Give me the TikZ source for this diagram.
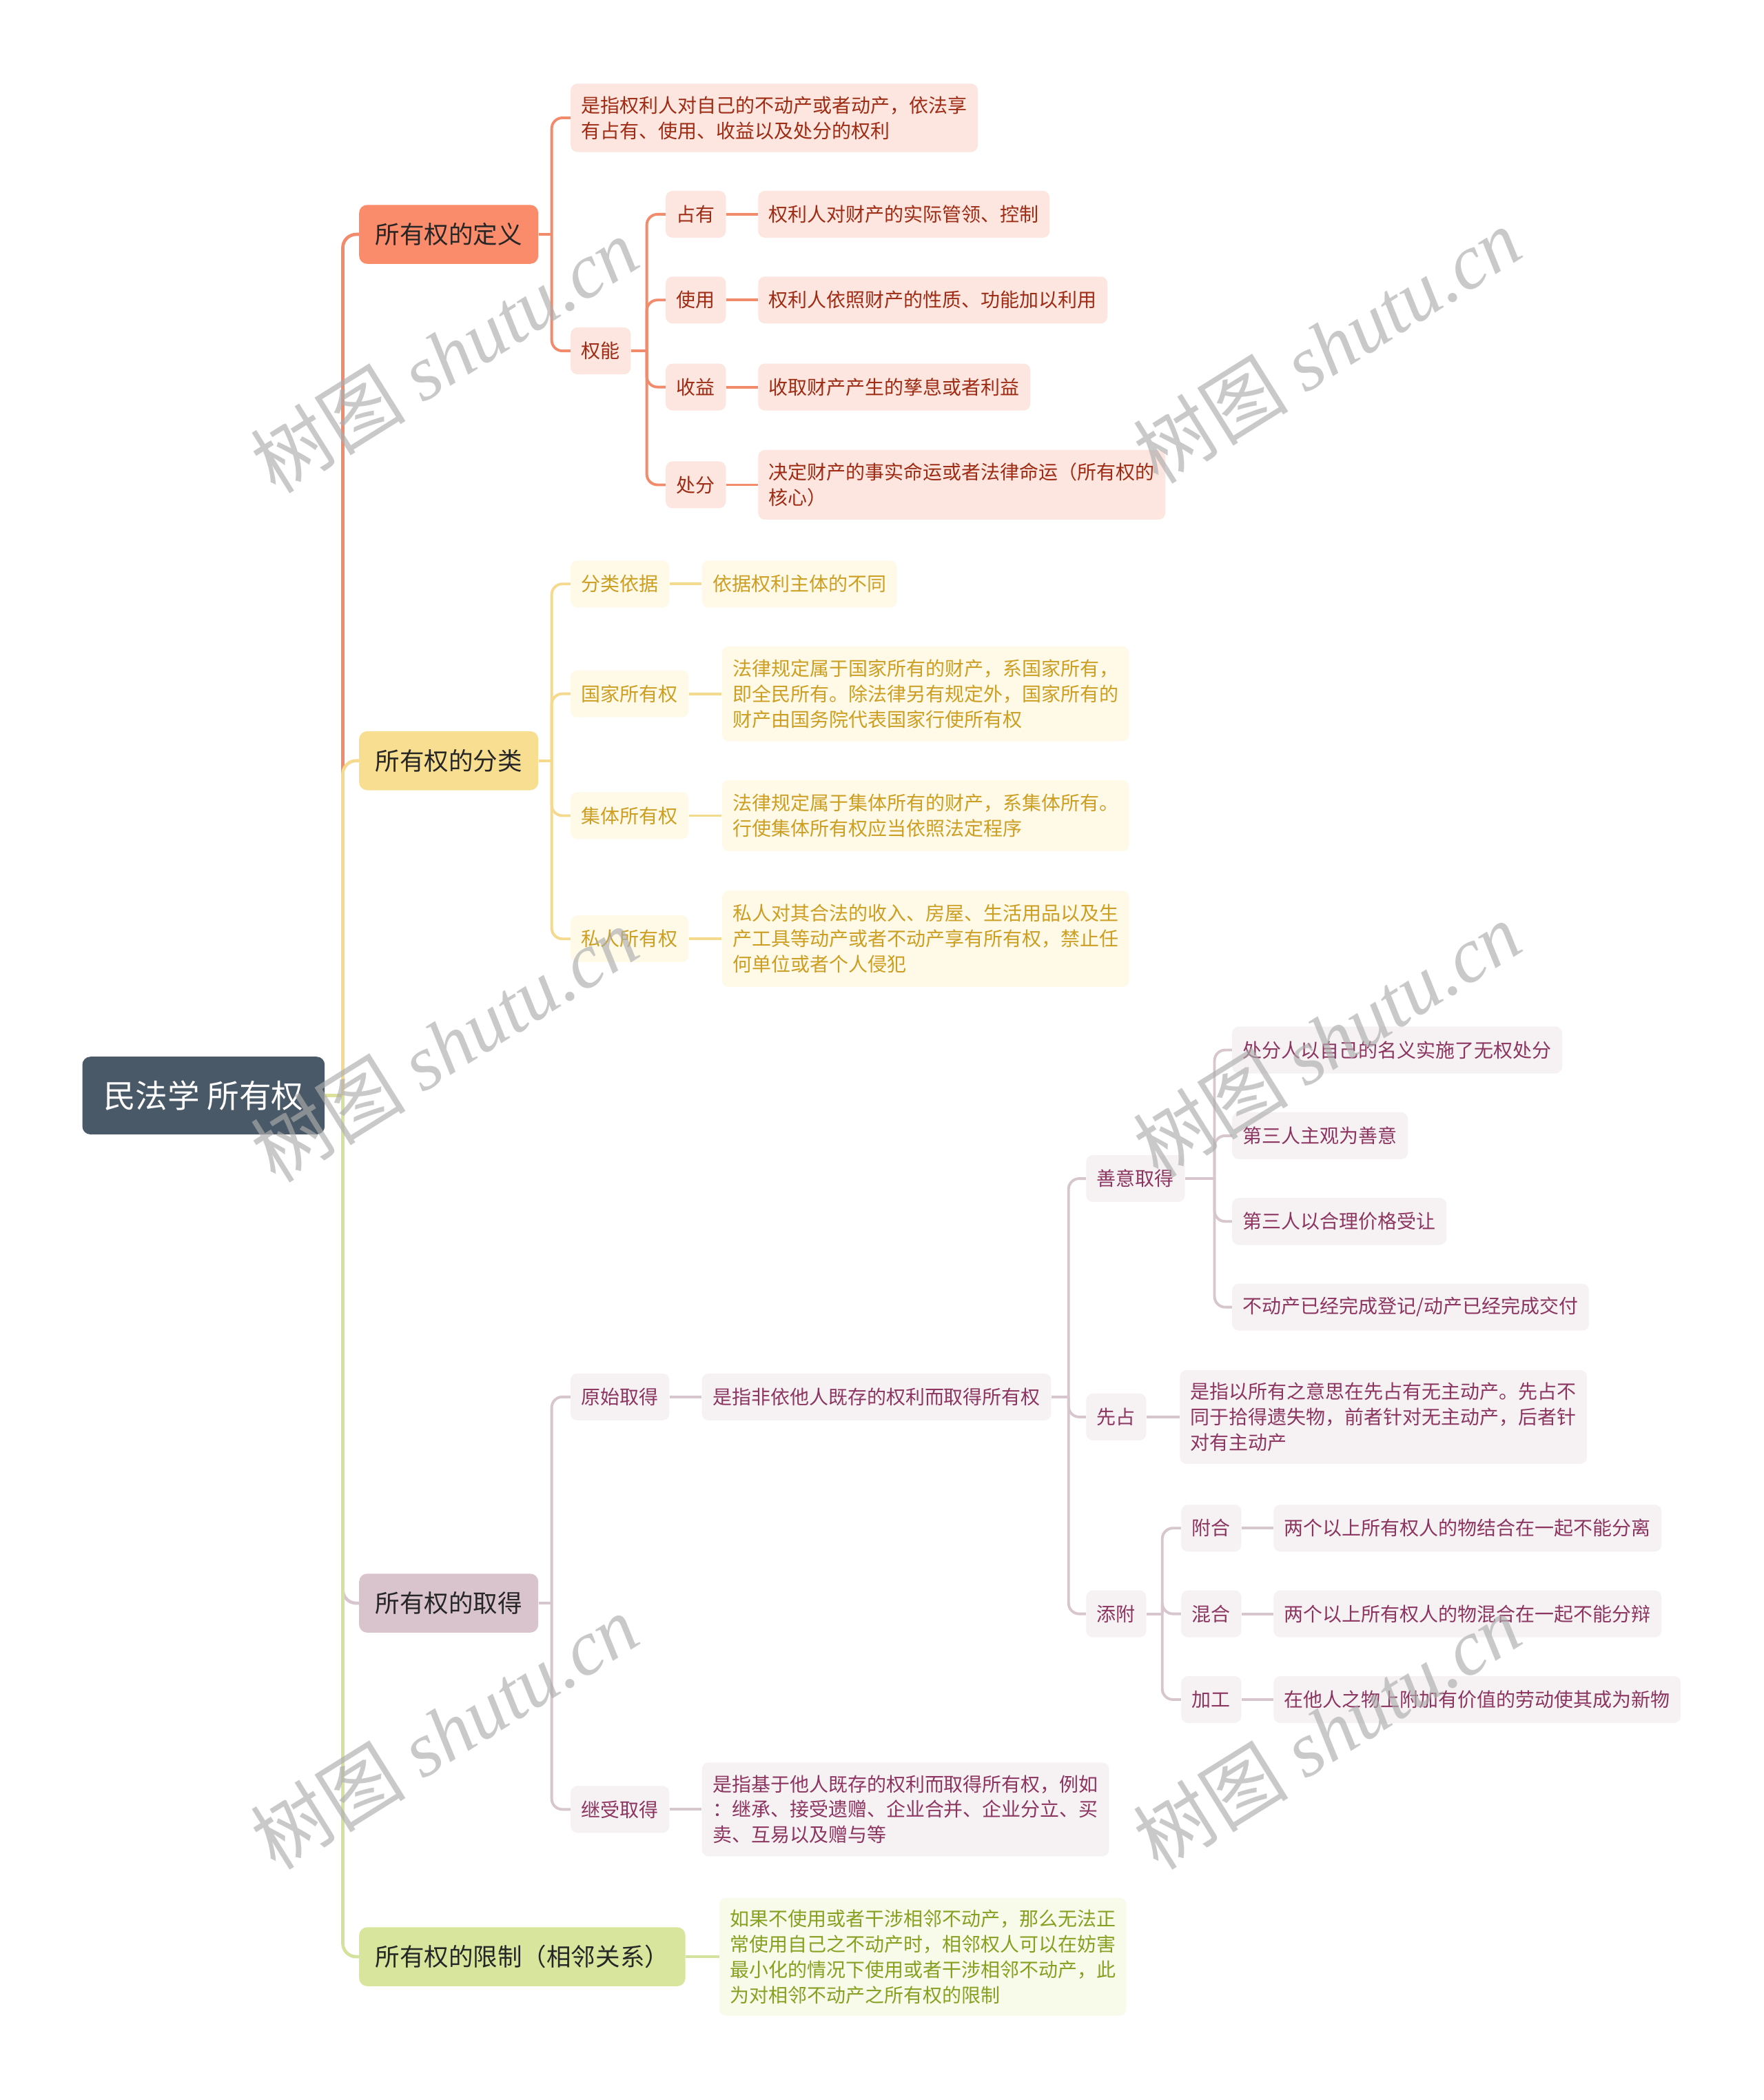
\documentclass[tikz,border=0pt]{standalone}
\usepackage{fontspec}
\newfontfamily\cjk{Noto Sans CJK SC}
\newfontfamily\wmlat{Liberation Serif}
\definecolor{rootc}{HTML}{4A5968}
\definecolor{ca}{HTML}{FA8B6B}\definecolor{cal}{HTML}{F28A6C}\definecolor{caf}{HTML}{FDE6DF}\definecolor{cat}{HTML}{9E2B14}
\definecolor{cb}{HTML}{F7DE90}\definecolor{cbl}{HTML}{F5DA8E}\definecolor{cbf}{HTML}{FFF9E8}\definecolor{cbt}{HTML}{CC9E22}
\definecolor{cc}{HTML}{D9C4CD}\definecolor{ccl}{HTML}{D7C6CD}\definecolor{ccf}{HTML}{F6F2F4}\definecolor{cct}{HTML}{8C3560}
\definecolor{cd}{HTML}{D8E69D}\definecolor{cdl}{HTML}{D3E29C}\definecolor{cdf}{HTML}{F8FAEA}\definecolor{cdt}{HTML}{86A021}
\tikzset{
  rootbox/.style={fill=rootc, text=white, rounded corners=6pt, minimum width=181pt, minimum height=58pt, font={\cjk\fontsize{24}{28}\selectfont}},
  lone/.style={rounded corners=6pt, inner xsep=12pt, minimum height=44pt, anchor=west, text=black!85, font={\cjk\fontsize{18.3}{22}\selectfont}},
  sbox/.style={rounded corners=5pt, inner xsep=8pt, inner ysep=0pt, minimum height=35pt, anchor=west, align=left, font={\cjk\fontsize{14.4}{19}\selectfont}},
  sa/.style={sbox, fill=caf, text=cat},
  sb/.style={sbox, fill=cbf, text=cbt},
  sc/.style={sbox, fill=ccf, text=cct},
  sd/.style={sbox, fill=cdf, text=cdt},
  mainline/.style={line width=2.4pt},
  subline/.style={line width=2pt},
  wm/.style={rotate=32, text=black!32, opacity=0.65, font={\cjk\fontsize{58}{62}\selectfont}}
}
\begin{document}
\begin{tikzpicture}[x=1pt,y=-1pt]
\useasboundingbox (0,0) rectangle (1317,1568);
\fill[white] (0,0) rectangle (1317,1568);

% root
\node[rootbox] (r) at (152,818) {民法学 所有权};
\coordinate (rj) at (256,818);

% level 1
\node[lone, fill=ca] (a) at (268,175) {所有权的定义};
\node[lone, fill=cb] (b) at (268,568) {所有权的分类};
\node[lone, fill=cc] (c) at (268,1197) {所有权的取得};
\node[lone, fill=cd] (d) at (268,1461) {所有权的限制（相邻关系）};

% definition branch
\node[sa, minimum height=51pt] (a0) at (426,88) {是指权利人对自己的不动产或者动产，依法享\\有占有、使用、收益以及处分的权利};
\node[sa] (a1) at (426,262) {权能};
\node[sa] (a11) at (497,160) {占有};
\node[sa] (a11t) at (566,160) {权利人对财产的实际管领、控制};
\node[sa] (a12) at (497,224) {使用};
\node[sa] (a12t) at (566,224) {权利人依照财产的性质、功能加以利用};
\node[sa] (a13) at (497,289) {收益};
\node[sa] (a13t) at (566,289) {收取财产产生的孳息或者利益};
\node[sa] (a14) at (497,362) {处分};
\node[sa, minimum height=52pt] (a14t) at (566,362) {决定财产的事实命运或者法律命运（所有权的\\核心）};

% classification branch
\node[sb] (b1) at (426,436) {分类依据};
\node[sb] (b1t) at (524,436) {依据权利主体的不同};
\node[sb] (b2) at (426,518) {国家所有权};
\node[sb, minimum height=71pt] (b2t) at (539,518) {法律规定属于国家所有的财产，系国家所有，\\即全民所有。除法律另有规定外，国家所有的\\财产由国务院代表国家行使所有权};
\node[sb] (b3) at (426,609) {集体所有权};
\node[sb, minimum height=53pt] (b3t) at (539,609) {法律规定属于集体所有的财产，系集体所有。\\行使集体所有权应当依照法定程序};
\node[sb] (b4) at (426,701) {私人所有权};
\node[sb, minimum height=72pt] (b4t) at (539,701) {私人对其合法的收入、房屋、生活用品以及生\\产工具等动产或者不动产享有所有权，禁止任\\何单位或者个人侵犯};

% acquisition branch
\node[sc] (c1) at (426,1043) {原始取得};
\node[sc] (c1t) at (524,1043) {是指非依他人既存的权利而取得所有权};
\node[sc] (c11) at (811,880) {善意取得};
\node[sc] (c111) at (920,784) {处分人以自己的名义实施了无权处分};
\node[sc] (c112) at (920,848) {第三人主观为善意};
\node[sc] (c113) at (920,912) {第三人以合理价格受让};
\node[sc] (c114) at (920,976) {不动产已经完成登记/动产已经完成交付};
\node[sc] (c12) at (811,1058) {先占};
\node[sc, minimum height=70pt] (c12t) at (881,1058) {是指以所有之意思在先占有无主动产。先占不\\同于拾得遗失物，前者针对无主动产，后者针\\对有主动产};
\node[sc] (c13) at (811,1205) {添附};
\node[sc] (c131) at (882,1141) {附合};
\node[sc] (c131t) at (951,1141) {两个以上所有权人的物结合在一起不能分离};
\node[sc] (c132) at (882,1205) {混合};
\node[sc] (c132t) at (951,1205) {两个以上所有权人的物混合在一起不能分辩};
\node[sc] (c133) at (882,1269) {加工};
\node[sc] (c133t) at (951,1269) {在他人之物上附加有价值的劳动使其成为新物};
\node[sc] (c2) at (426,1351) {继受取得};
\node[sc, minimum height=70pt] (c2t) at (524,1351) {是指基于他人既存的权利而取得所有权，例如\\：继承、接受遗赠、企业合并、企业分立、买\\卖、互易以及赠与等};

% limitation branch
\node[sd, minimum height=88pt] (d1) at (537,1461) {如果不使用或者干涉相邻不动产，那么无法正\\常使用自己之不动产时，相邻权人可以在妨害\\最小化的情况下使用或者干涉相邻不动产，此\\为对相邻不动产之所有权的限制};

% junctions
\coordinate (ja) at (412,175);
\coordinate (ja1) at (483,262);
\coordinate (jb) at (412,568);
\coordinate (jc) at (412,1197);
\coordinate (jc1) at (798,1043);
\coordinate (jc11) at (907,880);
\coordinate (jc13) at (868,1205);

% root connectors
\draw[mainline, cal, rounded corners=10pt] (rj) |- (a.west);
\draw[mainline, ccl, rounded corners=10pt] (rj) |- (c.west);
\draw[mainline, cbl, rounded corners=10pt] (rj) |- (b.west);
\draw[mainline, cdl, rounded corners=10pt] (rj) |- (d.west);
\draw[mainline, cdl!70!cbl] (r.east) -- (rj);

% definition
\draw[subline, cal] (a.east) -- (ja);
\foreach \k in {a0,a1} \draw[subline, cal, rounded corners=8pt] (ja) |- (\k.west);
\draw[subline, cal] (a1.east) -- (ja1);
\foreach \k in {a11,a12,a13,a14} \draw[subline, cal, rounded corners=8pt] (ja1) |- (\k.west);
\draw[subline, cal] (a11.east) -- (a11t.west);
\draw[subline, cal] (a12.east) -- (a12t.west);
\draw[subline, cal] (a13.east) -- (a13t.west);
\draw[subline, cal] (a14.east) -- (a14t.west);

% classification
\draw[subline, cbl] (b.east) -- (jb);
\foreach \k in {b1,b2,b3,b4} \draw[subline, cbl, rounded corners=8pt] (jb) |- (\k.west);
\draw[subline, cbl] (b1.east) -- (b1t.west);
\draw[subline, cbl] (b2.east) -- (b2t.west);
\draw[subline, cbl] (b3.east) -- (b3t.west);
\draw[subline, cbl] (b4.east) -- (b4t.west);

% acquisition
\draw[subline, ccl] (c.east) -- (jc);
\foreach \k in {c1,c2} \draw[subline, ccl, rounded corners=8pt] (jc) |- (\k.west);
\draw[subline, ccl] (c1.east) -- (c1t.west);
\draw[subline, ccl] (c2.east) -- (c2t.west);
\draw[subline, ccl] (c1t.east) -- (jc1);
\foreach \k in {c11,c12,c13} \draw[subline, ccl, rounded corners=8pt] (jc1) |- (\k.west);
\draw[subline, ccl] (c11.east) -- (jc11);
\foreach \k in {c111,c112,c113,c114} \draw[subline, ccl, rounded corners=8pt] (jc11) |- (\k.west);
\draw[subline, ccl] (c12.east) -- (c12t.west);
\draw[subline, ccl] (c13.east) -- (jc13);
\foreach \k in {c131,c132,c133} \draw[subline, ccl, rounded corners=8pt] (jc13) |- (\k.west);
\draw[subline, ccl] (c131.east) -- (c131t.west);
\draw[subline, ccl] (c132.east) -- (c132t.west);
\draw[subline, ccl] (c133.east) -- (c133t.west);

% limitation
\draw[subline, cdl] (d.east) -- (d1.west);

% watermarks
\foreach \wx/\wy in {332/265, 991/258, 332/780, 991/776, 332/1293, 991/1293}
  \node[wm] at (\wx,\wy) {树图 {\wmlat\itshape shutu.cn}};
\end{tikzpicture}
\end{document}
